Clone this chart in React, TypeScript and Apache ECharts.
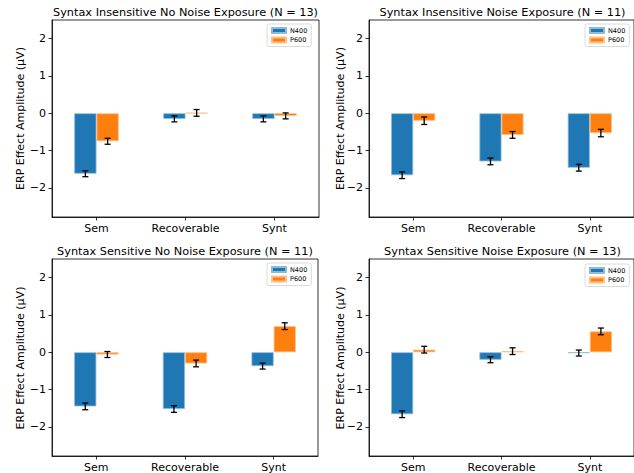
import React, { useEffect, useRef } from "react";
import * as echarts from "echarts";

const categories = ["Sem", "Recoverable", "Synt"];
const seriesNames = ["N400", "P600"];
const panelTitles = [
  "Syntax Insensitive No Noise Exposure (N = 13)",
  "Syntax Insensitive Noise Exposure (N = 11)",
  "Syntax Sensitive No Noise Exposure (N = 11)",
  "Syntax Sensitive Noise Exposure (N = 13)",
];
const yTicks = [-2, -1, 0, 1, 2];

const n400Values = [
  [-1.62, -0.15, -0.15],
  [-1.66, -1.29, -1.46],
  [-1.45, -1.52, -0.37],
  [-1.66, -0.2, -0.02],
];
const n400Errors = [
  [0.08, 0.08, 0.08],
  [0.09, 0.09, 0.09],
  [0.09, 0.09, 0.08],
  [0.09, 0.08, 0.08],
];
const p600Values = [
  [-0.75, 0.01, -0.07],
  [-0.2, -0.58, -0.53],
  [-0.06, -0.3, 0.7],
  [0.07, 0.03, 0.56],
];
const p600Errors = [
  [0.08, 0.09, 0.08],
  [0.1, 0.09, 0.1],
  [0.08, 0.09, 0.09],
  [0.09, 0.09, 0.09],
];

const FONT = "DejaVu Sans";
const grids = [
  { left: 52, top: 20, width: 267, height: 197 },
  { left: 369, top: 20, width: 267, height: 197 },
  { left: 52, top: 259, width: 266, height: 198 },
  { left: 369, top: 259, width: 267, height: 198 },
];
const legendPos = [
  { left: 267, top: 24 },
  { left: 585, top: 24 },
  { left: 267, top: 263 },
  { left: 585, top: 264 },
];
const titleTops = [6.5, 6.5, 245.5, 245.5];
const ylabelX = [20, 340, 20, 340];

const fmt = (v: number) => String(v).replace("-", "\u2212");

export default function App() {
  const ref = useRef<HTMLDivElement>(null);
  useEffect(() => {
    if (!ref.current) return;
    const chart = echarts.init(ref.current, null, { renderer: "svg" });
    const grid: any[] = [];
    const xAxis: any[] = [];
    const yAxis: any[] = [];
    const series: any[] = [];
    const title: any[] = [];
    const legend: any[] = [];
    const graphic: any[] = [];
    for (let i = 0; i < 4; i++) {
      const g = grids[i];
      grid.push({
        ...g,
        show: true,
        borderColor: "#000",
        borderWidth: 0.8,
        backgroundColor: "transparent",
        containLabel: false,
      });
      xAxis.push({
        type: "category",
        gridIndex: i,
        data: categories,
        axisLine: { show: true, onZero: false, lineStyle: { color: "#000", width: 0.8 } },
        axisTick: { show: true, alignWithLabel: true, length: 3.5, lineStyle: { color: "#000", width: 0.8 } },
        axisLabel: {
          fontSize: 11,
          color: "#000",
          fontFamily: FONT,
          margin: 6,
          interval: 0,
          hideOverlap: false,
        },
        splitLine: { show: false },
      });
      yAxis.push({
        type: "value",
        gridIndex: i,
        min: -2.78,
        max: 2.5,
        axisLine: { show: true, lineStyle: { color: "#000", width: 0.8 } },
        axisTick: {
          show: true,
          length: 3.5,
          customValues: yTicks,
          lineStyle: { color: "#000", width: 0.8 },
        },
        axisLabel: {
          fontSize: 11,
          color: "#000",
          fontFamily: FONT,
          margin: 6,
          customValues: yTicks,
          formatter: fmt,
        },
        splitLine: { show: false },
      });
      title.push({
        text: panelTitles[i],
        left: g.left + g.width / 2,
        top: titleTops[i],
        textAlign: "center",
        padding: 0,
        textStyle: { fontSize: 11.3, fontWeight: "normal", color: "#000", fontFamily: FONT },
      });
      legend.push({
        data: seriesNames,
        orient: "vertical",
        left: legendPos[i].left,
        top: legendPos[i].top,
        padding: [3, 4, 3, 4],
        itemWidth: 14,
        itemHeight: 5,
        itemGap: 2.5,
        icon: "rect",
        selectedMode: false,
        borderColor: "#d0d0d0",
        borderWidth: 0.8,
        borderRadius: 2,
        backgroundColor: "#fff",
        textStyle: { fontSize: 6.5, color: "#000", fontFamily: FONT, padding: [0, 0, 0, -1] },
      });
      graphic.push({
        type: "text",
        x: ylabelX[i],
        y: g.top + g.height / 2,
        rotation: Math.PI / 2,
        style: {
          text: "ERP Effect Amplitude (\u00b5V)",
          fontSize: 11,
          fontFamily: FONT,
          fill: "#000",
          align: "center",
          verticalAlign: "middle",
        },
      });
      const colors = ["#1f77b4", "#ff7f0e"];
      const borders = ["#8dbbdc", "#ffc08a"];
      const vals = [n400Values[i], p600Values[i]];
      const errs = [n400Errors[i], p600Errors[i]];
      for (let s = 0; s < 2; s++) {
        series.push({
          type: "bar",
          name: seriesNames[s],
          xAxisIndex: i,
          yAxisIndex: i,
          data: vals[s],
          barWidth: "25%",
          barGap: "0%",
          itemStyle: { color: colors[s], borderColor: borders[s], borderWidth: 0.8 },
        });
      }
      const errData: number[][] = [];
      for (let s = 0; s < 2; s++) {
        for (let c = 0; c < categories.length; c++) {
          errData.push([c, vals[s][c], errs[s][c], s === 0 ? -1 : 1]);
        }
      }
      series.push({
        type: "custom",
        name: "err" + i,
        xAxisIndex: i,
        yAxisIndex: i,
        z: 10,
        data: errData,
        encode: { x: 0, y: 1 },
        renderItem: (params: any, api: any) => {
          const ci = api.value(0);
          const v = api.value(1);
          const e = api.value(2);
          const sgn = api.value(3);
          const bw = api.size([1, 0])[0] * 0.25;
          const c = api.coord([ci, v]);
          const x = c[0] + (sgn * bw) / 2;
          const yt = api.coord([ci, v + e])[1];
          const yb = api.coord([ci, v - e])[1];
          const st = { stroke: "#000", lineWidth: 1.3 };
          return {
            type: "group",
            children: [
              { type: "line", shape: { x1: x, y1: yt, x2: x, y2: yb }, style: st },
              { type: "line", shape: { x1: x - 3, y1: yt, x2: x + 3, y2: yt }, style: st },
              { type: "line", shape: { x1: x - 3, y1: yb, x2: x + 3, y2: yb }, style: st },
            ],
          };
        },
      });
    }
    chart.setOption({
      animation: false,
      backgroundColor: "#fff",
      grid,
      xAxis,
      yAxis,
      series,
      title,
      legend,
      graphic,
    });
    return () => chart.dispose();
  }, []);
  return (
    <div
      ref={ref}
      style={{ position: "absolute", left: 0, top: 0, width: 634, height: 473 }}
    />
  );
}
